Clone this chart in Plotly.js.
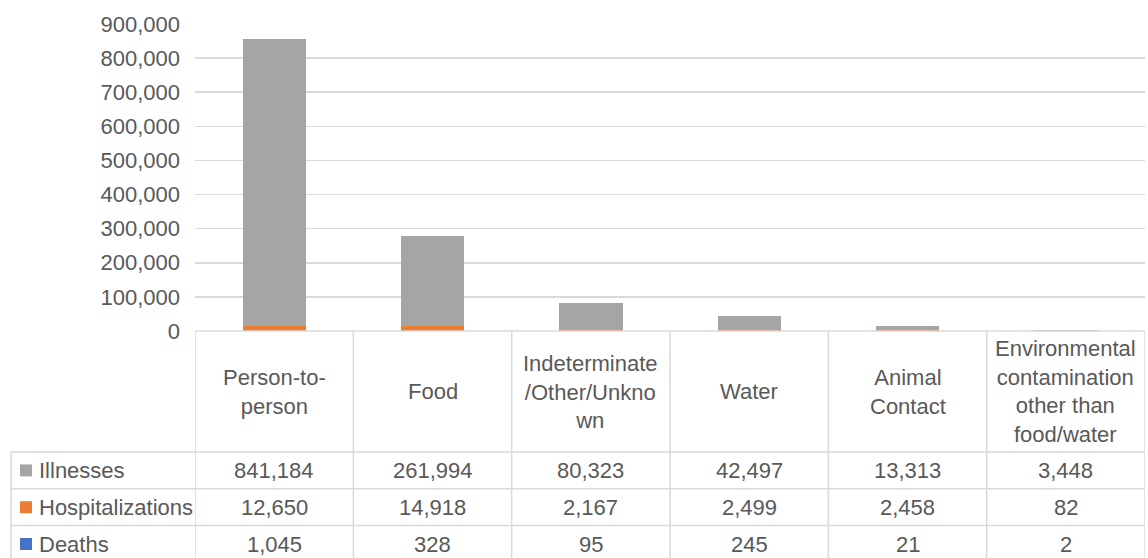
<!DOCTYPE html>
<html>
<head>
<meta charset="utf-8">
<script src="https://cdn.plot.ly/plotly-3.0.1.min.js"></script>
<style>
  html, body { margin: 0; padding: 0; background: #ffffff; }
  #chart { width: 1148px; height: 558px; }
</style>
</head>
<body>
<div id="chart"></div>
<script>
// Outbreak-associated illnesses, hospitalizations and deaths by transmission mode
const categories = [
  "Person-to-person",
  "Food",
  "Indeterminate/Other/Unknown",
  "Water",
  "Animal Contact",
  "Environmental contamination other than food/water"
];
// Header text as wrapped in the data table cells
const headerLabels = [
  "Person-to-<br>person",
  "Food",
  "Indeterminate<br>/Other/Unkno<br>wn",
  "Water",
  "Animal<br>Contact",
  "Environmental<br>contamination<br>other than<br>food/water"
];
const illnesses       = [841184, 261994, 80323, 42497, 13313, 3448];
const hospitalizations = [12650, 14918, 2167, 2499, 2458, 82];
const deaths          = [1045, 328, 95, 245, 21, 2];
const seriesNames  = ["Illnesses", "Hospitalizations", "Deaths"];
const seriesColors = ["#a5a5a5", "#ed7d31", "#4472c4"];
const yTicks = [0, 100000, 200000, 300000, 400000, 500000, 600000, 700000, 800000, 900000];

const W = 1148, H = 558;
const px = v => v / W;          // pixel column -> paper x
const py = v => 1 - v / H;      // pixel row -> paper y

const FONT = "Liberation Sans, Arial, sans-serif";
const TXT = "#595959";
const GRID = "#d9d9d9";
const FS = 22;

// plot frame and table geometry (pixels)
const plotTop = 24, plotBottom = 331, plotLeft = 195, plotRight = 1145;
const headerBottom = 452;
const rowH = 36.8;
const labelLeft = 11;

const idx = categories.map((_, i) => i);
const seriesValues = [illnesses, hospitalizations, deaths];

// stacked from the bottom: deaths, hospitalizations, illnesses
const traces = [2, 1, 0].map(s => ({
  type: "bar",
  name: seriesNames[s],
  x: categories,
  y: seriesValues[s],
  marker: { color: seriesColors[s], line: { width: 0 } },
  hoverinfo: "x+y+name"
}));

const shapes = [];
const annotations = [];
const lineStyle = { color: GRID, width: 1.5 };

// table top edge (also the category axis baseline)
shapes.push({ type: "line", xref: "paper", yref: "paper",
  x0: px(plotLeft), x1: px(plotRight), y0: py(plotBottom), y1: py(plotBottom), line: lineStyle });
// horizontal row separators
for (let r = 0; r <= 3; r++) {
  const yy = headerBottom + r * rowH;
  shapes.push({ type: "line", xref: "paper", yref: "paper",
    x0: px(labelLeft), x1: px(plotRight), y0: py(yy), y1: py(yy), line: lineStyle });
}
// vertical column separators, placed on category boundaries
for (let c = 0; c <= categories.length; c++) {
  shapes.push({ type: "line", xref: "x", yref: "paper",
    x0: c - 0.5, x1: c - 0.5, y0: py(plotBottom), y1: 0, line: lineStyle });
}
// left edge of the series-label column
shapes.push({ type: "line", xref: "paper", yref: "paper",
  x0: px(labelLeft), x1: px(labelLeft), y0: py(headerBottom), y1: 0, line: lineStyle });

// header cells
idx.forEach(i => {
  annotations.push({ xref: "x", yref: "paper", x: i, y: py((plotBottom + headerBottom) / 2),
    text: headerLabels[i], showarrow: false, xanchor: "center", yanchor: "middle",
    font: { family: FONT, size: FS, color: TXT } });
});

// value rows with legend keys
seriesNames.forEach((name, r) => {
  const yc = headerBottom + r * rowH + rowH / 2;
  shapes.push({ type: "rect", xref: "paper", yref: "paper",
    x0: px(20), x1: px(32), y0: py(yc - 6), y1: py(yc + 6),
    fillcolor: seriesColors[r], line: { width: 0 } });
  annotations.push({ xref: "paper", yref: "paper", x: px(37), y: py(yc),
    text: name, showarrow: false, xanchor: "left", yanchor: "middle",
    font: { family: FONT, size: FS, color: TXT } });
  seriesValues[r].forEach((v, i) => {
    annotations.push({ xref: "x", yref: "paper", x: i, y: py(yc),
      text: v.toLocaleString("en-US"), showarrow: false, xanchor: "center", yanchor: "middle",
      font: { family: FONT, size: FS, color: TXT } });
  });
});

const layout = {
  width: W, height: H,
  margin: { l: 0, r: 0, t: 0, b: 0 },
  paper_bgcolor: "#ffffff",
  plot_bgcolor: "#ffffff",
  barmode: "stack",
  bargap: 0.6,
  showlegend: false,
  font: { family: FONT, size: FS, color: TXT },
  xaxis: {
    domain: [px(plotLeft), px(plotRight)],
    type: "category",
    range: [-0.5, categories.length - 0.5],
    showticklabels: false, showgrid: false, zeroline: false, showline: false, ticks: ""
  },
  yaxis: {
    domain: [py(plotBottom), py(plotTop)],
    range: [0, 900000],
    tickvals: yTicks,
    tickformat: ",",
    showgrid: true, gridcolor: GRID, gridwidth: 1.5,
    zeroline: false, showline: false, ticks: "",
    ticklabelstandoff: 14,
    tickfont: { family: FONT, size: FS, color: TXT }
  },
  shapes: shapes,
  annotations: annotations
};

Plotly.newPlot("chart", traces, layout, { staticPlot: true, displayModeBar: false });
</script>
</body>
</html>
